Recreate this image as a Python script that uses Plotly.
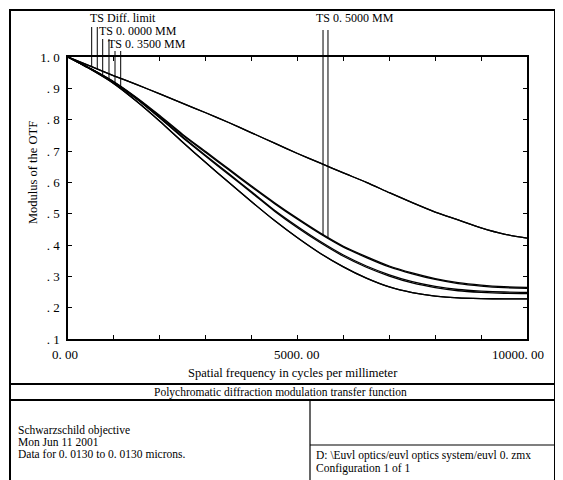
import plotly.graph_objects as go
import numpy as np

# ---------------- data ----------------
freq = [0, 500, 1000, 1500, 2000, 2500, 3000, 3500, 4000, 4500, 5000,
        5500, 6000, 6500, 7000, 7500, 8000, 8500, 9000, 9500, 10000]

mtf_diff = [1.000, 0.970, 0.940, 0.912, 0.882, 0.852, 0.822, 0.791, 0.758, 0.725, 0.692,
            0.661, 0.630, 0.600, 0.567, 0.535, 0.505, 0.480, 0.455, 0.435, 0.422]

mtf_05_t = [1.000, 0.962, 0.920, 0.868, 0.810, 0.750, 0.695, 0.640, 0.585, 0.532, 0.482,
            0.435, 0.393, 0.360, 0.330, 0.308, 0.290, 0.277, 0.269, 0.264, 0.262]
mtf_05_s = [1.000, 0.962, 0.921, 0.870, 0.813, 0.753, 0.698, 0.643, 0.588, 0.535, 0.485,
            0.438, 0.396, 0.363, 0.333, 0.311, 0.293, 0.280, 0.272, 0.267, 0.265]

mtf_035_t = [1.000, 0.962, 0.918, 0.865, 0.805, 0.742, 0.683, 0.625, 0.567, 0.508, 0.455,
             0.407, 0.364, 0.329, 0.301, 0.279, 0.264, 0.254, 0.249, 0.246, 0.245]
mtf_035_s = [1.000, 0.962, 0.919, 0.867, 0.807, 0.745, 0.686, 0.628, 0.570, 0.511, 0.459,
             0.411, 0.368, 0.333, 0.305, 0.283, 0.268, 0.258, 0.253, 0.250, 0.249]

mtf_00_t = [1.000, 0.960, 0.915, 0.858, 0.795, 0.728, 0.663, 0.600, 0.538, 0.478, 0.423,
            0.373, 0.330, 0.294, 0.266, 0.248, 0.237, 0.231, 0.229, 0.228, 0.228]
mtf_00_s = list(mtf_00_t)

x_tick_vals = [0, 1000, 2000, 3000, 4000, 5000, 6000, 7000, 8000, 9000, 10000]
x_label_vals = [0, 5000, 10000]
x_label_text = ["0. 00", "5000. 00", "10000. 00"]
y_tick_vals = [0.1, 0.2, 0.3, 0.4, 0.5, 0.6, 0.7, 0.8, 0.9, 1.0]
y_tick_text = [". 1", ". 2", ". 3", ". 4", ". 5", ". 6", ". 7", ". 8", ". 9", "1. 0"]

curve_labels = ["TS Diff. limit", "TS 0. 0000 MM", "TS 0. 3500 MM", "TS 0. 5000 MM"]
label_freqs = [[516, 638], [756, 893], [1024, 1148], [5556, 5664]]

x_title = "Spatial frequency in cycles per millimeter"
y_title = "Modulus of the OTF"
box_title = "Polychromatic diffraction modulation transfer function"
info_left = ["Schwarzschild objective", "Mon Jun 11 2001", "Data for 0. 0130 to 0. 0130 microns."]
info_right = ["D: \\Euvl optics/euvl optics system/euvl 0. zmx", "Configuration 1 of 1"]

# ---------------- layout geometry (reference pixel coords) ----------------
OFF = 8                      # page body margin of the html page
W, H = 563 - OFF, 480 - OFF
PL, PT, PR, PB = 68, 57, 527, 339   # plot area in reference pixels
L, T = PL - OFF, PT - OFF
R, B = W - (PR - OFF), H - (PB - OFF)
PW, PH = PR - PL, PB - PT
YMIN, YMAX = 0.1, 1.0


def px_x(px):
    return (px - PL) / PW


def px_y(py):
    return (PB - py) / PH


FONT = "Liberation Serif"

fig = go.Figure()

curves = [mtf_diff, mtf_diff, mtf_05_t, mtf_05_s, mtf_035_t, mtf_035_s, mtf_00_t, mtf_00_s]
for ys in curves:
    fig.add_trace(go.Scatter(x=freq, y=ys, mode="lines",
                             line=dict(color="black", width=1.3, shape="spline", smoothing=0.6),
                             showlegend=False, hoverinfo="skip"))

shapes = []
annotations = []

# curve identification markers
label_pos = [(89, 18.5, 27), (98, 31.5, 39), (107, 44.5, 51), (315, 18, 30)]
label_curves = [(mtf_diff, mtf_diff), (mtf_00_t, mtf_00_s), (mtf_035_t, mtf_035_s), (mtf_05_t, mtf_05_s)]
for text, fpair, (lx, ly, ltop), cpair in zip(curve_labels, label_freqs, label_pos, label_curves):
    annotations.append(dict(text=text, xref="paper", yref="paper", x=px_x(lx), y=px_y(ly),
                            xanchor="left", yanchor="middle", showarrow=False, borderpad=0,
                            font=dict(family=FONT, size=12, color="black")))
    for f, c in zip(fpair, cpair):
        v = float(np.interp(f, freq, c))
        shapes.append(dict(type="line", xref="x", yref="paper", x0=f, x1=f,
                           y0=(v - YMIN) / (YMAX - YMIN), y1=px_y(ltop),
                           line=dict(color="black", width=1)))

# x tick labels (placed as in the reference, the last one pulled inside the frame)
for val, txt, shift in zip(x_label_vals, x_label_text, [-3, -1, -9]):
    annotations.append(dict(text=txt, xref="x", yref="paper", x=val, y=px_y(354), xshift=shift,
                            xanchor="center", yanchor="middle", showarrow=False, borderpad=0,
                            font=dict(family=FONT, size=13, color="black")))

# axis titles
annotations.append(dict(text=x_title, xref="paper", yref="paper", x=px_x(293), y=px_y(373),
                        xanchor="center", yanchor="middle", showarrow=False,
                        font=dict(family=FONT, size=12.5, color="black")))
annotations.append(dict(text=y_title, xref="paper", yref="paper", x=px_x(33), y=px_y(173),
                        xanchor="center", yanchor="middle", showarrow=False, textangle=-90,
                        font=dict(family=FONT, size=12.5, color="black")))

# frame and information boxes
lw = 1.8
shapes.append(dict(type="rect", xref="paper", yref="paper", x0=px_x(10), x1=px_x(555),
                   y0=px_y(486), y1=px_y(10), line=dict(color="black", width=2)))
shapes.append(dict(type="line", xref="paper", yref="paper", x0=px_x(10), x1=px_x(555),
                   y0=px_y(384), y1=px_y(384), line=dict(color="black", width=lw)))
shapes.append(dict(type="line", xref="paper", yref="paper", x0=px_x(10), x1=px_x(555),
                   y0=px_y(400), y1=px_y(400), line=dict(color="black", width=lw)))
shapes.append(dict(type="line", xref="paper", yref="paper", x0=px_x(310), x1=px_x(310),
                   y0=px_y(400), y1=px_y(486), line=dict(color="black", width=1.2)))
shapes.append(dict(type="line", xref="paper", yref="paper", x0=px_x(310), x1=px_x(555),
                   y0=px_y(445), y1=px_y(445), line=dict(color="black", width=1.2)))

annotations.append(dict(text=box_title, xref="paper", yref="paper", x=px_x(280), y=px_y(392),
                        xanchor="center", yanchor="middle", showarrow=False,
                        font=dict(family=FONT, size=11.5, color="black")))
for txt, yy in zip(info_left, [430, 442, 454]):
    annotations.append(dict(text=txt, xref="paper", yref="paper", x=px_x(16), y=px_y(yy),
                            xanchor="left", yanchor="middle", showarrow=False,
                            font=dict(family=FONT, size=11.5, color="black")))
for txt, yy in zip(info_right, [455, 468]):
    annotations.append(dict(text=txt, xref="paper", yref="paper", x=px_x(314), y=px_y(yy),
                            xanchor="left", yanchor="middle", showarrow=False,
                            font=dict(family=FONT, size=11.5, color="black")))

axis_common = dict(showline=True, linecolor="black", linewidth=1.5, mirror="ticks",
                   ticks="inside", ticklen=4, tickwidth=1, tickcolor="black",
                   showgrid=False, zeroline=False,
                   tickfont=dict(family=FONT, size=13, color="black"))

fig.update_layout(
    width=W, height=H,
    margin=dict(l=L, r=R, t=T, b=B, autoexpand=False),
    paper_bgcolor="white", plot_bgcolor="white",
    font=dict(family=FONT, color="black"),
    xaxis=dict(range=[0, 10000], tickvals=x_tick_vals, showticklabels=False, **axis_common),
    yaxis=dict(range=[YMIN, YMAX], tickvals=y_tick_vals, ticktext=y_tick_text,
               ticklabelstandoff=4, **axis_common),
    shapes=shapes, annotations=annotations,
)

fig.write_html("out.html")
